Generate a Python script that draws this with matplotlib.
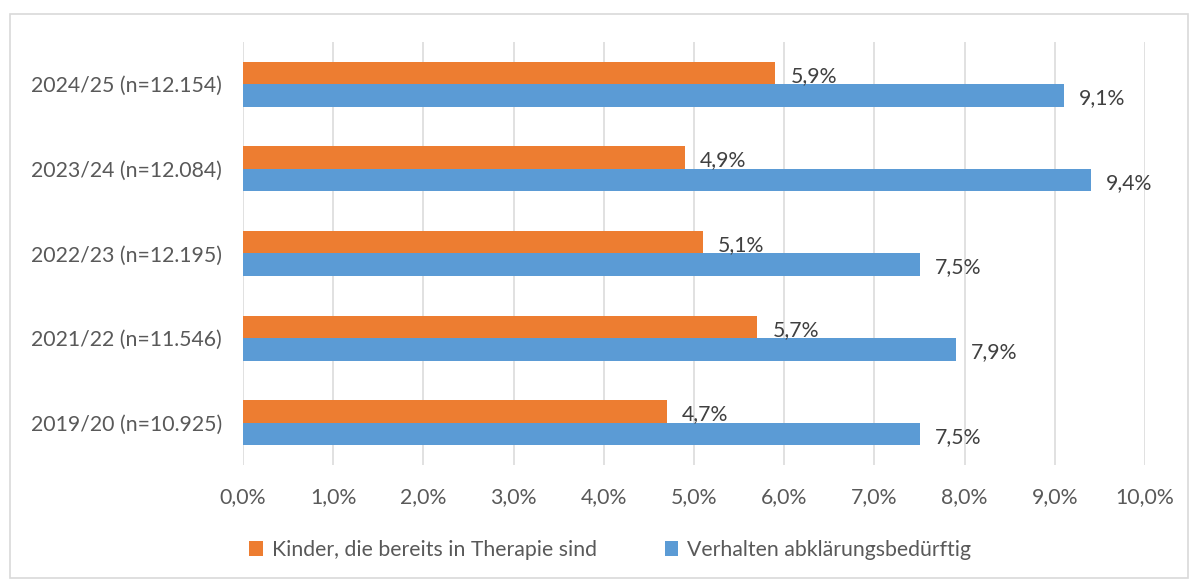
import matplotlib.pyplot as plt
import numpy as np
from matplotlib.patches import Rectangle

# Daten
kategorien = ['2019/20 (n=10.925)', '2021/22 (n=11.546)', '2022/23 (n=12.195)',
              '2023/24 (n=12.084)', '2024/25 (n=12.154)']
therapie = [4.7, 5.7, 5.1, 4.9, 5.9]
abklaerung = [7.5, 7.9, 7.5, 9.4, 9.1]
x_ticks = [0, 1, 2, 3, 4, 5, 6, 7, 8, 9, 10]

plt.rcParams['font.family'] = ['Lato', 'DejaVu Sans']
fs = 15.3

fig = plt.figure(figsize=(11.9, 5.8), dpi=100)
ax = fig.add_axes([243 / 1190, 1 - 465 / 580, 902 / 1190, 423 / 580])

# Rahmen um das Diagramm
fig.patches.append(Rectangle((10 / 1190, 2 / 580), 1178 / 1190, 564 / 580,
                             transform=fig.transFigure, fill=False,
                             edgecolor='#d9d9d9', linewidth=1.2))

y = np.arange(len(kategorien))
h = 0.265
b1 = ax.barh(y + h / 2, therapie, height=h, color='#ED7D31',
             label='Kinder, die bereits in Therapie sind', zorder=3)
b2 = ax.barh(y - h / 2, abklaerung, height=h, color='#5B9BD5',
             label='Verhalten abklärungsbedürftig', zorder=3)

for bars, vals in [(b1, therapie), (b2, abklaerung)]:
    for bar, v in zip(bars, vals):
        ax.annotate(f'{v:.1f}%'.replace('.', ','),
                    (v, bar.get_y() + bar.get_height() / 2),
                    xytext=(11, -2), textcoords='offset points',
                    ha='left', va='center', fontsize=fs, color='#404040')

ax.set_xlim(0, 10)
ax.set_ylim(-0.5, len(kategorien) - 0.5)
ax.set_xticks(x_ticks)
ax.set_xticklabels([f'{t:.1f}%'.replace('.', ',') for t in x_ticks])
ax.set_yticks(y)
ax.set_yticklabels(kategorien)
ax.tick_params(axis='x', length=0, pad=16, labelsize=fs, labelcolor='#595959')
ax.tick_params(axis='y', length=0, pad=15, labelsize=fs, labelcolor='#595959')
ax.grid(axis='x', color='#d9d9d9', linewidth=1.1, zorder=0)
for s in ax.spines.values():
    s.set_visible(False)

fig.legend(loc='center', bbox_to_anchor=(610 / 1190, 1 - 550 / 580), ncol=2,
           frameon=False, fontsize=fs, labelcolor='#595959',
           handlelength=0.65, handleheight=0.65, handletextpad=0.4,
           columnspacing=3.2)

plt.savefig('out.png', dpi=100)
plt.close()
